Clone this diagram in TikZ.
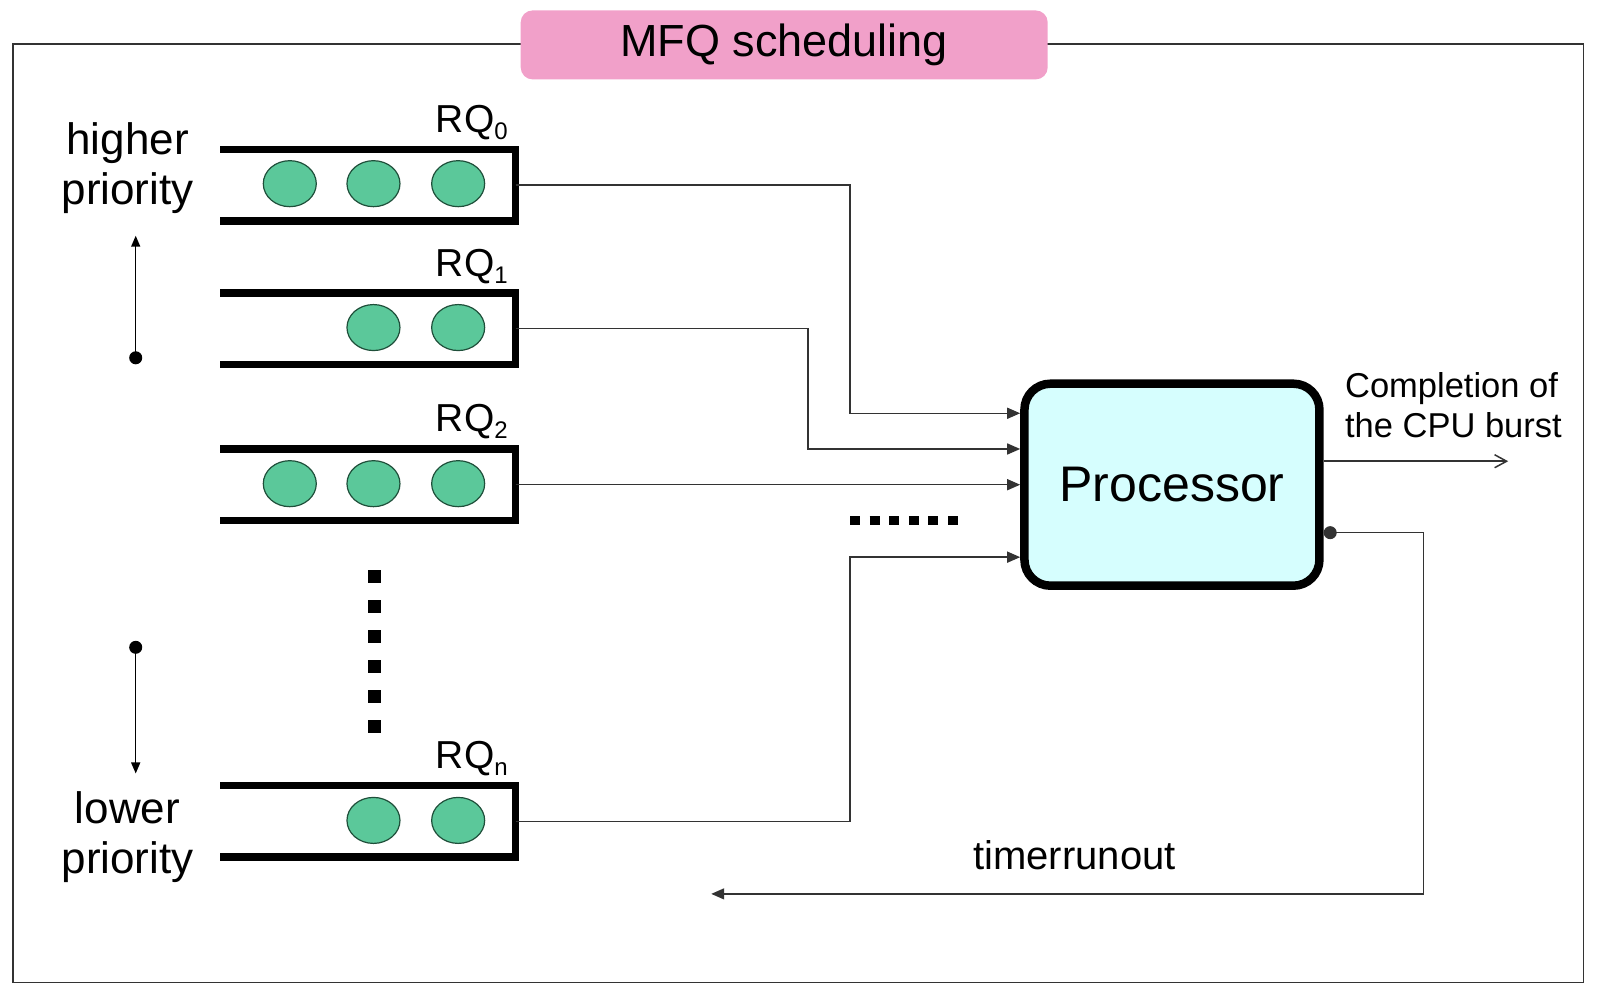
\documentclass[tikz,border=0pt]{standalone}
\usepackage{fontspec}
\setmainfont{Liberation Sans}
\usetikzlibrary{arrows.meta,shapes.geometric}
\definecolor{titlepink}{HTML}{F1A0C9}
\definecolor{jobgreen}{HTML}{5BC89A}
\definecolor{jobline}{HTML}{1F4F3A}
\definecolor{proccyan}{HTML}{D6FEFE}
\definecolor{linegray}{HTML}{333333}
\newcommand{\rqsub}[1]{\raisebox{-7pt}{\fontsize{24}{28}\selectfont #1}}
\begin{document}
\begin{tikzpicture}[x=1.0204pt,y=-1.0204pt,
  frame/.style={draw=linegray, line width=1.6pt},
  conn/.style={draw=linegray, line width=1.5pt},
  arr/.style={conn, -{Triangle[length=13pt,width=11pt]}},
  openarr/.style={conn, -{Straight Barb[length=12pt,width=13pt,line width=1.5pt]}},
  prioarr/.style={draw=black, line width=1.5pt, {Circle[length=13pt]}-{Triangle[length=11pt,width=9pt]}},
  qbox/.style={minimum width=295pt, minimum height=71pt, inner sep=0pt},
  qline/.style={draw=black, line width=7.5pt, line join=miter, line cap=butt},
  job/.style={ellipse, draw=jobline, line width=1.2pt, fill=jobgreen, minimum width=53pt, minimum height=46pt, inner sep=0pt},
  proc/.style={draw=black, line width=8.5pt, fill=proccyan, rounded corners=26pt, minimum width=295pt, minimum height=202pt, font=\fontsize{50}{60}\selectfont},
  ttl/.style={fill=titlepink, rounded corners=12pt, minimum width=527pt, minimum height=69pt, inner sep=0pt, font=\fontsize{45}{54}\selectfont},
  rq/.style={anchor=base west, inner sep=0pt, font=\fontsize{39}{46}\selectfont},
  prio/.style={align=center, inner sep=0pt, font=\fontsize{44}{50}\selectfont},
  lbl/.style={inner sep=0pt, font=\fontsize{40}{48}\selectfont}
]
\useasboundingbox (0,0) rectangle (1568,974);

% outer frame and title
\draw[frame] (13,43) rectangle (1552,963);
\node[ttl] (T) at (768.5,44) {MFQ scheduling};

% queues
\foreach \n/\y in {q0/181.5, q1/322, q2/475, qn/805}{
  \node[qbox] (\n) at (360.5,\y) {};
  \draw[qline] (\n.north west) -- (\n.north east) -- (\n.south east) -- (\n.south west);
}

% jobs
\node[job] (j01) at (284,180) {};
\node[job] (j02) at (366,180) {};
\node[job] (j03) at (449,180) {};
\node[job] (j12) at (366,321) {};
\node[job] (j13) at (449,321) {};
\node[job] (j21) at (284,474) {};
\node[job] (j22) at (366,474) {};
\node[job] (j23) at (449,474) {};
\node[job] (jn2) at (366,804) {};
\node[job] (jn3) at (449,804) {};

% queue labels
\node[rq] (l0) at (427,130) {RQ\rqsub{0}};
\node[rq] (l1) at (427,271) {RQ\rqsub{1}};
\node[rq] (l2) at (427,423) {RQ\rqsub{2}};
\node[rq] (ln) at (427,753) {RQ\rqsub{n}};

% vertical ellipsis between queues
\draw[line width=13pt, dash pattern=on 13pt off 17pt] (367,559) -- (367,724);

% priority labels and arrows
\node[prio] (hp) at (125,165) {higher\\priority};
\node[prio] (lp) at (125,820) {lower\\priority};
\coordinate (hpstart) at (133,357);
\coordinate (hpend) at (133,231);
\coordinate (lpstart) at (133,628);
\coordinate (lpend) at (133,758);
\draw[prioarr] (hpstart) -- (hpend);
\draw[prioarr] (lpstart) -- (lpend);

% processor
\node[proc] (P) at (1148.5,475) {Processor};

% connectors from queues to processor
\draw[arr] (q0.east) -| (833,405) -- (P.west |- 0,405);
\draw[arr] (q1.east) -| (792,440) -- (P.west |- 0,440);
\draw[arr] (q2.east) -- (P.west |- q2.east);
\draw[arr] (qn.east) -| (833,546) -- (P.west |- 0,546);
\draw[line width=9pt, dash pattern=on 10pt off 9.6pt] (833,510) -- (942,510);

% completion
\coordinate (done) at (1478,452);
\draw[openarr] (P.east |- 0,452) -- (done);
\node[anchor=west, align=left, inner sep=0pt, font=\fontsize{34.5}{40}\selectfont] (cl) at (1318,397) {Completion of\\the CPU burst};

% timer run-out feedback
\coordinate (back) at (697,876);
\draw[conn, {Circle[length=13pt]}-{Triangle[length=13pt,width=11pt]}] (P.east |- 0,522) -- (1395,522) -- (1395,876) -- (back);
\node[lbl] (tr) at (1053,838) {timerrunout};
\end{tikzpicture}
\end{document}
